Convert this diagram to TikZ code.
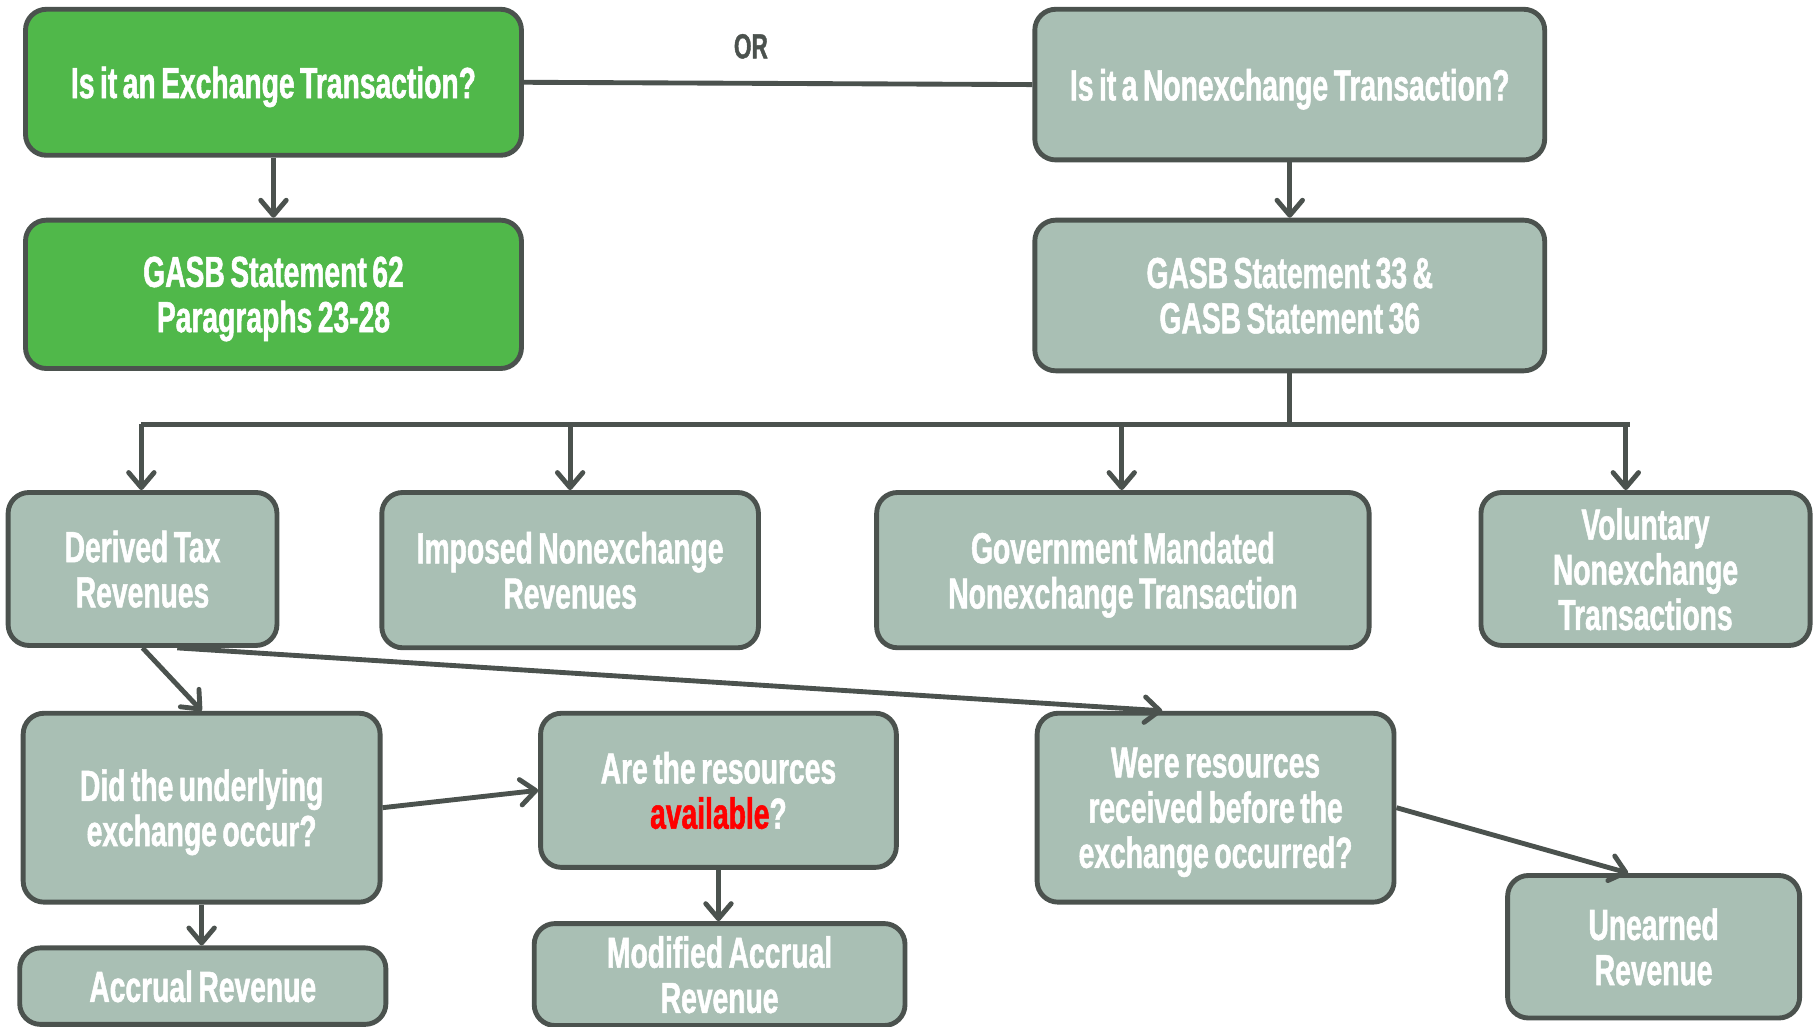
\documentclass[tikz,border=0pt]{standalone}
\usepackage{fontspec}
\usetikzlibrary{arrows.meta}
\newfontfamily\boxfont[FakeStretch=0.65,FakeBold=1.2,WordSpace=0.7]{Liberation Sans Bold}
\definecolor{edge}{HTML}{4B524E}
\definecolor{sage}{HTML}{A9BFB4}
\definecolor{grn}{HTML}{50B84A}
\definecolor{hot}{HTML}{FF0000}
\tikzset{
  box/.style={draw=edge, line width=4.2pt, rounded corners=18pt, fill=sage, text=white,
    font=\boxfont\fontsize{37.5}{39}\selectfont, align=center, inner sep=0pt, text depth=-3pt},
  gbox/.style={box, fill=grn},
  low/.style={text depth=-8pt},
  link/.style={draw=edge, line width=4.2pt},
  arr/.style={link, -{Straight Barb[length=13pt,width=22pt,line width=4.2pt,round]}},
}
\begin{document}
\begin{tikzpicture}[x=1pt,y=-1pt]
\useasboundingbox (0,0) rectangle (1568,886);
% top row
\node[gbox, minimum width=428, minimum height=126] (ex) at (236,71) {Is it an Exchange Transaction?};
\node[gbox, minimum width=428, minimum height=128] (g62) at (236,254) {GASB Statement 62\\Paragraphs 23-28};
\node[box, minimum width=440, minimum height=130] (nex) at (1113,73) {Is it a Nonexchange Transaction?};
\node[box, minimum width=440, minimum height=130] (g33) at (1113,255) {GASB Statement 33 \&\\GASB Statement 36};
\node[text=edge, font=\boxfont\fontsize{30}{32}\selectfont] (or) at (648,40) {OR};
% categories
\node[box, minimum width=232, minimum height=132] (dtr) at (123,491) {Derived Tax\\Revenues};
\node[box, minimum width=325, minimum height=134] (inr) at (492,492) {Imposed Nonexchange\\Revenues};
\node[box, minimum width=425, minimum height=134] (gmn) at (969,492) {Government Mandated\\Nonexchange Transaction};
\node[box, minimum width=284, minimum height=132] (vnt) at (1420,491) {Voluntary\\Nonexchange\\Transactions};
% questions
\node[box, low, minimum width=308, minimum height=163] (did) at (174,697) {Did the underlying\\exchange occur?};
\node[box, minimum width=307, minimum height=133] (are) at (620,682) {Are the resources\\{\color{hot}available}?};
\node[box, low, minimum width=308, minimum height=163] (were) at (1049,697) {Were resources\\received before the\\exchange occurred?};
% results
\node[box, minimum width=316, minimum height=66] (acc) at (175,851) {Accrual Revenue};
\node[box, minimum width=320, minimum height=88] (mod) at (621,841) {Modified Accrual\\Revenue};
\node[box, minimum width=252, minimum height=123] (une) at (1427,817) {Unearned\\Revenue};
% connectors
\draw[link] (ex.east) -- (nex.west);
\draw[arr] (ex.south) -- (g62.north);
\draw[arr] (nex.south) -- (g33.north);
\coordinate (busL) at (122,366);
\coordinate (busR) at (1407,366);
\coordinate (t2) at (492,366);
\coordinate (t3) at (968,366);
\coordinate (t4) at (1403,366);
\draw[link] (g33.south) -- (g33.south |- busL);
\draw[link] (busL) -- (busR);
\draw[arr] (busL) -- (busL |- dtr.north);
\draw[arr] (t2) -- (t2 |- inr.north);
\draw[arr] (t3) -- (t3 |- gmn.north);
\draw[arr] (t4) -- (t4 |- vnt.north);
\draw[arr] (dtr.south) -- (did.north);
\draw[arr] ([xshift=30pt]dtr.south) -- ([xshift=-46pt]were.north);
\draw[arr] (did.east) -- (are.west);
\draw[arr] (are.south) -- (are.south |- mod.north);
\draw[arr] (did.south) -- (did.south |- acc.north);
\draw[arr] (were.east) -- ([xshift=-22pt]une.north);
\end{tikzpicture}
\end{document}
